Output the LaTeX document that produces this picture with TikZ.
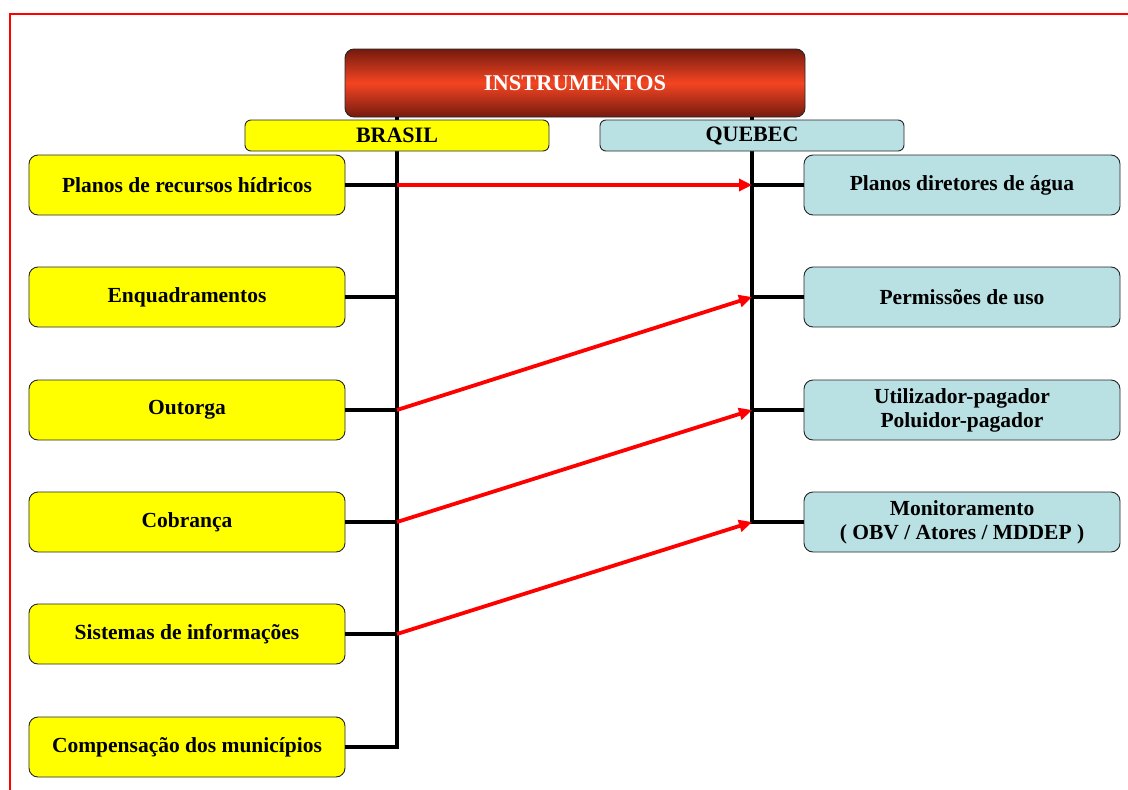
\documentclass[tikz,border=0pt]{standalone}
\usepackage{fontspec}
\setmainfont{Liberation Serif}
\usetikzlibrary{arrows.meta}
\definecolor{boxyellow}{HTML}{FFFF00}
\definecolor{boxblue}{HTML}{B9E0E3}
\definecolor{topdark}{HTML}{741A0E}
\definecolor{topmid}{HTML}{F44522}
\tikzset{
  x=1pt, y=-1pt,
  item/.style={draw=black!85, line width=0.9pt, rounded corners=9pt,
    minimum width=316pt, minimum height=60pt, inner sep=2pt, align=center,
    font=\fontsize{21.5}{24}\selectfont\bfseries},
  brbox/.style={item, fill=boxyellow},
  qcbox/.style={item, fill=boxblue},
  header/.style={draw=black!85, line width=0.9pt, rounded corners=6pt,
    minimum width=304pt, minimum height=31pt, inner sep=0pt,
    font=\fontsize{22}{24}\selectfont\bfseries},
  trunk/.style={line width=3.3pt, black},
  link/.style={line width=3.8pt, red, -{Triangle[length=13pt,width=12pt]}},
}
\begin{document}
\begin{tikzpicture}
  \useasboundingbox (0,0) rectangle (1128,790);
  % frame
  \draw[red, line width=2pt] (1128,14) -- (10,14) -- (10,790);

  % vertical trunk positions
  \coordinate (bx) at (397,0);
  \coordinate (qx) at (752,0);

  % title
  \node[draw=black!85, line width=0.9pt, rounded corners=9pt,
    minimum width=460pt, minimum height=68pt,
    top color=topdark, bottom color=topdark, middle color=topmid,
    text=white, font=\fontsize{22.5}{24}\selectfont\bfseries]
    (instr) at (575,83) {INSTRUMENTOS};

  % left column
  \node[brbox] (b1) at (187,185) {Planos de recursos hídricos};
  \node[brbox] (b2) at (187,297) {Enquadramentos};
  \node[brbox] (b3) at (187,410) {Outorga};
  \node[brbox] (b4) at (187,522) {Cobrança};
  \node[brbox] (b5) at (187,634) {Sistemas de informações};
  \node[brbox] (b6) at (187,747) {Compensação dos municípios};

  % right column
  \node[qcbox] (q1) at (962,185) {Planos diretores de água};
  \node[qcbox] (q2) at (962,297) {Permissões de uso};
  \node[qcbox] (q3) at (962,410) {Utilizador-pagador\\Poluidor-pagador};
  \node[qcbox] (q4) at (962,522) {Monitoramento\\( OBV / Atores / MDDEP )};

  % trunks and branches
  \draw[trunk] (instr.south -| bx) -- (b6.east -| bx) -- (b6.east);
  \foreach \n in {b1,b2,b3,b4,b5} \draw[trunk] (\n.east) -- (\n.east -| bx);
  \draw[trunk] (instr.south -| qx) -- (q4.west -| qx) -- (q4.west);
  \foreach \n in {q1,q2,q3} \draw[trunk] (\n.west) -- (\n.west -| qx);

  % headers
  \node[header, fill=boxyellow] (brasil) at (397,135.5) {BRASIL};
  \node[header, fill=boxblue] (quebec) at (752,135.5) {QUEBEC};

  % correspondences
  \draw[link] (b1.east -| bx) -- (q1.west -| qx);
  \draw[link] (b3.east -| bx) -- (q2.west -| qx);
  \draw[link] (b4.east -| bx) -- (q3.west -| qx);
  \draw[link] (b5.east -| bx) -- (q4.west -| qx);
\end{tikzpicture}
\end{document}
